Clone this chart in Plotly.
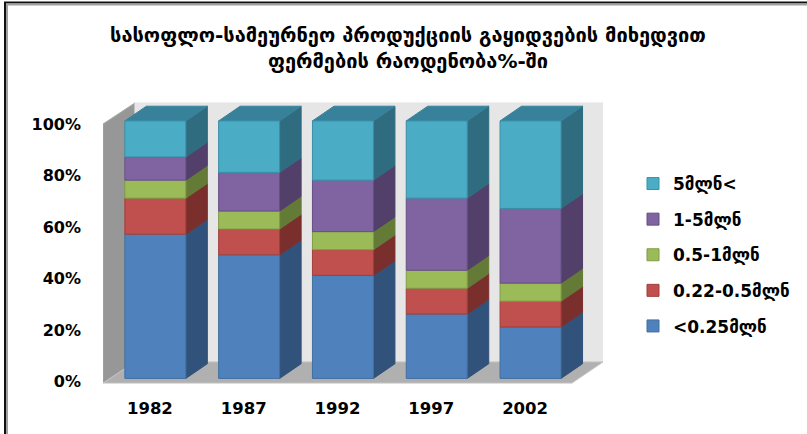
import plotly.graph_objects as go

years = ["1982", "1987", "1992", "1997", "2002"]
series_names = ["&lt;0.25მლნ", "0.22-0.5მლნ", "0.5-1მლნ", "1-5მლნ", "5მლნ&lt;"]
under_025 = [56, 48, 40, 25, 20]
from_022 = [14, 10, 10, 10, 10]
from_05 = [7, 7, 7, 7, 7]
from_1 = [9, 15, 20, 28, 29]
over_5 = [14, 20, 23, 30, 34]
values = [under_025, from_022, from_05, from_1, over_5]
front = ["#4F81BD", "#C0504D", "#9BBB59", "#8064A2", "#4BACC6"]
edge = ["#41709F", "#A03F3C", "#7F9C45", "#674F85", "#3A8EA6"]
side = ["#31527A", "#7A2F2D", "#647A37", "#523F6A", "#2F6C80"]
top_col = "#37829A"

TITLE = "სასოფლო-სამეურნეო პროდუქციის გაყიდვების მიხედვით<br>ფერმების რაოდენობა%-ში"
FONT = "DejaVu Sans"

# plot area in pixels / scale of the axes
L, R, T, B = 103, 603, 100, 390
px_x = 93.8
px_y = 2.575
zero_px = 381.5
x_range = [-0.5, -0.5 + (R - L) / px_x]
y_range = [(zero_px - B) / px_y, (zero_px - T) / px_y]
dx = 21.5 / px_x      # depth of a bar
dy = 14.7 / px_y
shift_x = 0.058       # bars sit a little behind the front of the floor
lift_y = 1.2
bar_w = 61 / px_x
wall_dx = 32 / px_x
wall_dy = 8.2
floor_y = -0.6
wall_top = 100

fig = go.Figure()


def poly(xs, ys, fill, line=None):
    fig.add_trace(go.Scatter(x=xs + xs[:1], y=ys + ys[:1], mode="lines", fill="toself",
                             fillcolor=fill, line=dict(color=line or fill, width=1),
                             hoverinfo="skip", showlegend=False))


# walls and floor
x0 = x_range[0]
floor_right = x0 + (572 - L) / px_x
poly([x0, x0 + wall_dx, x0 + wall_dx, x0],
     [floor_y, floor_y + wall_dy, wall_top + wall_dy, wall_top], "#979797", "#A8A8A8")
poly([x0 + wall_dx, x_range[1], x_range[1], x0 + wall_dx],
     [floor_y + wall_dy, floor_y + wall_dy, wall_top + wall_dy, wall_top + wall_dy], "#E6E6E6")
poly([x0, floor_right, x_range[1], x0 + wall_dx],
     [floor_y, floor_y, floor_y + wall_dy, floor_y + wall_dy], "#B0B0B0", "#C4C4C4")

# stacked columns: side and top faces are derived from the data
for i in range(len(years)):
    right = i + shift_x + bar_w / 2
    base = lift_y
    for s, vals in enumerate(values):
        t = base + vals[i]
        poly([right, right + dx, right + dx, right],
             [base, base + dy, t + dy, t], side[s])
        base = t
    poly([right - bar_w, right, right + dx, right - bar_w + dx],
         [base, base, base + dy, base + dy], top_col)

# front faces, on an overlaying pair of axes so they sit above the walls
bases = [lift_y] * len(years)
for s, vals in enumerate(values):
    fig.add_trace(go.Bar(x=[i + shift_x for i in range(len(years))], y=vals, base=list(bases),
                         width=bar_w, name=series_names[s], legendgroup=str(s),
                         legendrank=len(values) - s,
                         xaxis="x2", yaxis="y2",
                         marker=dict(color=front[s], line=dict(color=edge[s], width=1))))
    bases = [b + v for b, v in zip(bases, vals)]


def frame_line(x_0, y_0, x_1, y_1, color, width):
    fig.add_shape(type="line", xref="paper", yref="paper",
                  x0=(x_0 - L) / (R - L), x1=(x_1 - L) / (R - L),
                  y0=(B - y_0) / (B - T), y1=(B - y_1) / (B - T),
                  line=dict(color=color, width=width))


frame_line(4, 2.5, 807, 2.5, "#111111", 2)
frame_line(6, 4.5, 807, 4.5, "#A0A0A0", 2)
frame_line(5, 2, 5, 434, "#111111", 2)
frame_line(7, 4, 7, 434, "#A0A0A0", 2)

fig.update_layout(
    width=807, height=434, autosize=False,
    margin=dict(l=L, r=807 - R, t=T, b=434 - B),
    paper_bgcolor="white", plot_bgcolor="white",
    barmode="overlay", showlegend=True,
    font=dict(family=FONT, size=16, color="black"),
    title=dict(text=TITLE, x=408 / 807, xanchor="center", xref="container", y=1 - 41.5 / 434,
               yanchor="middle", font=dict(family=FONT, size=20, color="black", weight="bold")),
    legend=dict(x=(641 - L) / (R - L), xanchor="left", y=1 - (166 - T) / (B - T),
                yanchor="top", traceorder="grouped", tracegroupgap=10.5, indentation=-8,
                font=dict(family=FONT, size=17, weight="bold"), itemclick=False),
    xaxis=dict(range=x_range, tickmode="array", tickvals=list(range(len(years))), ticktext=years,
               showgrid=False, zeroline=False, showline=False, ticks="", ticklabelstandoff=6,
               tickfont=dict(family=FONT, size=16.5, weight="bold")),
    yaxis=dict(range=y_range, tickmode="array", tickvals=[0, 20, 40, 60, 80, 100],
               ticktext=["0%", "20%", "40%", "60%", "80%", "100%"],
               showgrid=False, zeroline=False, showline=False, ticks="", ticklabelstandoff=21,
               tickfont=dict(family=FONT, size=16, weight="bold")),
    xaxis2=dict(range=x_range, overlaying="x", visible=False),
    yaxis2=dict(range=y_range, overlaying="y", visible=False),
)
fig.write_html("out.html", config={"displayModeBar": False},
               post_script="document.body.style.margin='0';")
